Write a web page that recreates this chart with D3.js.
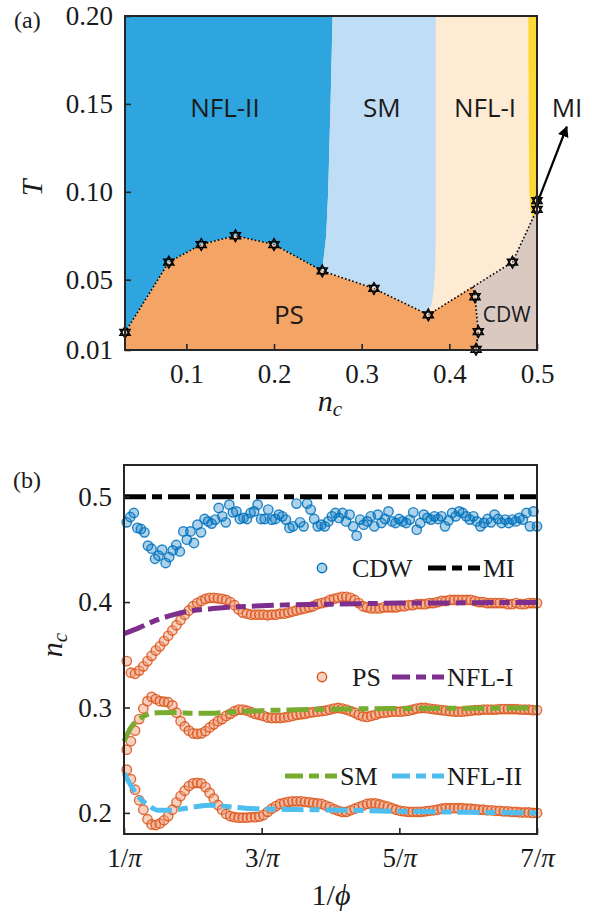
<!DOCTYPE html>
<html>
<head>
<meta charset="utf-8">
<script src="https://cdn.jsdelivr.net/npm/d3@7"></script>
<style>
  body { margin: 0; background: #fff; }
  svg text { fill: #1a1a1a; }
</style>
</head>
<body>
<div id="chart"></div>
<script>
// ---------- panel (a) data : phase diagram ----------
// transition points (stars) along the PS boundary
const starN = [0.03, 0.08, 0.117, 0.156, 0.2, 0.255, 0.314, 0.376, 0.472, 0.5, 0.5];
const starT = [0.020, 0.060, 0.070, 0.075, 0.070, 0.055, 0.045, 0.030, 0.060, 0.090, 0.095];
// PS / CDW boundary (first point lies on the main line, no star)
const psCdwN = [0.4268, 0.4293, 0.433, 0.4305];
const psCdwT = [0.046, 0.0403, 0.0204, 0.0104];
// NFL-II / SM crossover
const smLeftN = [0.2668, 0.2645, 0.2618, 0.2595, 0.255];
const smLeftT = [0.2, 0.15, 0.1, 0.075, 0.055];
// SM / NFL-I crossover
const smRightN = [0.3845, 0.3845, 0.3843, 0.3838, 0.3825, 0.38, 0.376];
const smRightT = [0.2, 0.1, 0.07, 0.055, 0.045, 0.037, 0.03];
// NFL-I / MI strip
const miLeftN = [0.4901, 0.4905, 0.4912, 0.4925, 0.495];
const miLeftT = [0.2, 0.15, 0.1, 0.09, 0.0846];

const phaseLabels = ["NFL-II", "SM", "NFL-I", "PS", "CDW"];
const phaseLabelN = [0.144, 0.323, 0.4407, 0.217, 0.4655];
const phaseLabelT = [0.148, 0.148, 0.148, 0.0305, 0.0305];

const tickA_T = [0.01, 0.05, 0.10, 0.15, 0.20];
const tickA_N = [0.1, 0.2, 0.3, 0.4, 0.5];

// ---------- panel (b) data : n_c vs 1/phi (x in units of 1/pi) ----------
const cdw = [0.4756,0.4807,0.4845,0.4703,0.4693,0.4661,0.4535,0.4506,0.4411,0.444,
  0.4497,0.437,0.4427,0.449,0.4541,0.448,0.467,0.4592,0.467,0.456,
  0.4734,0.4661,0.4788,0.4765,0.4744,0.4782,0.4893,0.4813,0.4756,0.4924,
  0.4851,0.486,0.4788,0.4798,0.4788,0.4845,0.486,0.4924,0.4788,0.4788,
  0.4877,0.4782,0.4788,0.4829,0.4813,0.4782,0.4703,0.4718,0.4934,0.4756,
  0.4718,0.4934,0.4877,0.4788,0.4718,
  0.4734,0.4718,0.4765,0.4813,0.4845,0.4798,0.4845,0.4765,0.4829,0.4718,
  0.463,0.4782,0.4734,0.4765,0.4813,0.4718,0.4829,0.475,0.4788,0.486,
  0.4765,0.475,0.4788,0.4765,0.475,0.4782,0.4851,0.4687,0.475,0.4829,
  0.4798,0.4782,0.4813,0.4788,0.4813,0.4718,0.4775,0.4845,0.4813,0.486,
  0.4845,0.4813,0.4782,0.4813,0.4765,0.4718,0.475,0.4788,0.4756,0.4829,
  0.4788,0.475,0.4782,0.475,0.4782,0.4765,0.4798,0.4782,0.4845,0.4718,
  0.486,0.4718];

const psUpper = [0.344,0.333,0.332,0.335,0.339,0.344,0.349,0.354,0.358,0.363,
  0.368,0.373,0.378,0.383,0.388,0.392,0.396,0.399,0.401,0.403,
  0.404,0.404,0.4035,0.403,0.402,0.400,0.397,0.393,0.390,0.389,
  0.388,0.388,0.388,0.388,0.3875,0.388,0.388,0.389,0.389,0.390,
  0.391,0.392,0.393,0.394,0.395,0.396,0.398,0.399,0.400,0.402,
  0.403,0.404,0.405,0.405,0.404,0.402,0.399,0.396,0.395,0.394,
  0.394,0.394,0.395,0.395,0.395,0.395,0.396,0.396,0.397,0.397,
  0.398,0.398,0.398,0.399,0.399,0.400,0.401,0.401,0.402,0.402,
  0.402,0.402,0.402,0.402,0.401,0.400,0.400,0.399,0.399,0.399,
  0.399,0.399,0.398,0.398,0.399,0.398,0.398,0.399,0.399,0.399];

const psMiddle = [0.260,0.268,0.278,0.289,0.299,0.306,0.310,0.308,0.306,0.3055,
  0.305,0.302,0.295,0.287,0.282,0.278,0.2755,0.275,0.2755,0.2775,
  0.281,0.284,0.287,0.289,0.292,0.294,0.2965,0.298,0.298,0.297,
  0.2955,0.294,0.293,0.292,0.2905,0.290,0.290,0.290,0.2905,0.291,
  0.292,0.293,0.2935,0.294,0.295,0.2955,0.296,0.2965,0.297,0.298,
  0.299,0.2995,0.299,0.298,0.2965,0.295,0.293,0.2915,0.291,0.292,
  0.293,0.2945,0.295,0.2955,0.296,0.296,0.296,0.2965,0.297,0.298,
  0.299,0.2995,0.2995,0.299,0.2985,0.298,0.2975,0.297,0.2965,0.296,
  0.296,0.296,0.2965,0.297,0.2975,0.2975,0.298,0.298,0.298,0.298,
  0.2985,0.2985,0.2985,0.2985,0.2985,0.298,0.298,0.298,0.2975,0.2975];

const psLower = [0.241,0.232,0.222,0.212,0.203,0.194,0.189,0.1885,0.190,0.193,
  0.197,0.203,0.210,0.216,0.221,0.2255,0.228,0.2285,0.228,0.2245,
  0.219,0.2135,0.2075,0.203,0.199,0.197,0.196,0.1955,0.1955,0.1955,
  0.196,0.196,0.1965,0.198,0.201,0.204,0.2065,0.2085,0.2095,0.2105,
  0.211,0.211,0.211,0.2105,0.21,0.2095,0.209,0.2085,0.207,0.2055,
  0.2035,0.202,0.201,0.201,0.2025,0.204,0.2055,0.207,0.2085,0.209,
  0.209,0.208,0.207,0.206,0.2045,0.203,0.202,0.2015,0.201,0.201,
  0.201,0.201,0.2015,0.202,0.2025,0.203,0.204,0.2045,0.2045,0.2045,
  0.2045,0.2045,0.204,0.204,0.2035,0.203,0.203,0.2025,0.2025,0.202,
  0.202,0.2015,0.2015,0.201,0.201,0.2005,0.2005,0.2005,0.2,0.2];

// dash-dot curves, sampled at these x values (units of 1/pi)
const lineK = [1, 1.1, 1.2, 1.35, 1.5, 1.75, 2, 2.25, 2.5, 2.75, 3, 3.5, 4, 4.5, 5, 5.5, 6, 6.5, 7];
const lineMI = [0.5,0.5,0.5,0.5,0.5,0.5,0.5,0.5,0.5,0.5,0.5,0.5,0.5,0.5,0.5,0.5,0.5,0.5,0.5];
const lineNFL1 = [0.370,0.3725,0.375,0.3795,0.3835,0.3885,0.392,0.3935,0.395,0.3958,0.3965,0.3975,0.398,0.3985,0.399,0.399,0.3993,0.3995,0.3995];
const lineSM = [0.268,0.281,0.288,0.2935,0.295,0.2952,0.2945,0.2945,0.2955,0.2963,0.297,0.2978,0.2984,0.2988,0.299,0.2992,0.2993,0.2994,0.2995];
const lineNFL2 = [0.238,0.226,0.216,0.2075,0.2025,0.203,0.2055,0.2072,0.206,0.2045,0.2038,0.2032,0.2028,0.2022,0.2015,0.201,0.2006,0.2003,0.2];

const tickB_K = [1, 3, 5, 7];
const tickB_N = [0.2, 0.3, 0.4, 0.5];

// ---------- drawing ----------
const W = 592, H = 917;
const serif = "'Liberation Serif', 'Times New Roman', serif";
const sans = "'Open Sans', 'DejaVu Sans', sans-serif";
const axisCol = "#262626";

const svg = d3.select("#chart").append("svg").attr("width", W).attr("height", H);

// ===== panel (a) =====
const xA = d3.scaleLinear().domain([0.03, 0.5]).range([125, 537]);
const yA = d3.scaleLinear().domain([0.01, 0.2]).range([350, 16]);
const gA = svg.append("g");

const pt = (n, t) => [xA(n), yA(t)];
const zip = (ns, ts) => ns.map((n, i) => pt(n, ts[i]));
const stars = zip(starN, starT);
const psCdw = zip(psCdwN, psCdwT);
const poly = pts => "M" + pts.map(p => p.join(",")).join("L") + "Z";

// background NFL-I
gA.append("rect")
  .attr("x", xA(0.03)).attr("y", yA(0.2))
  .attr("width", xA(0.5) - xA(0.03)).attr("height", yA(0.01) - yA(0.2))
  .attr("fill", "#fdebd3");

// NFL-II
gA.append("path").attr("fill", "#2ea5df").attr("d", poly(
  [pt(0.03, 0.2)].concat(zip(smLeftN, smLeftT), stars.slice(0, 6).reverse())));
// SM
gA.append("path").attr("fill", "#bfddf4").attr("d", poly(
  zip(smLeftN, smLeftT).concat(stars.slice(5, 8), zip(smRightN, smRightT).reverse())));
// MI strip
gA.append("path").attr("fill", "#fdd835").attr("d", poly(
  zip(miLeftN, miLeftT).concat([stars[9], pt(0.5, 0.2)])));
// PS
gA.append("path").attr("fill", "#f4a464").attr("d", poly(
  stars.slice(0, 8).concat(psCdw, [pt(psCdwN[3], 0.01), pt(0.03, 0.01)])));
// CDW
gA.append("path").attr("fill", "#d9c9c1").attr("d", poly(
  [psCdw[0], stars[8], stars[9], pt(0.5, 0.01), pt(psCdwN[3], 0.01)].concat(psCdw.slice().reverse())));

// dotted boundaries
const lineA = d3.line();
[stars, psCdw].forEach(pts => {
  gA.append("path").attr("d", lineA(pts))
    .attr("fill", "none").attr("stroke", "#000")
    .attr("stroke-width", 1.6).attr("stroke-dasharray", "1.6,2.2");
});

// hexagram markers
const hexagram = r => {
  const tri = a0 => d3.range(3).map(i => {
    const a = a0 + i * 2 * Math.PI / 3;
    return [r * Math.sin(a), -r * Math.cos(a)];
  });
  return poly(tri(0)) + poly(tri(Math.PI));
};
gA.selectAll(".star")
  .data(stars.concat(psCdw.slice(1)))
  .join("path")
  .attr("class", "star")
  .attr("transform", d => `translate(${d[0]},${d[1]})`)
  .attr("d", hexagram(5.8))
  .attr("fill", "rgba(255,255,255,0.35)")
  .attr("stroke", "#000").attr("stroke-width", 1.5);

// phase labels
gA.selectAll(".phase")
  .data(phaseLabels)
  .join("text")
  .attr("class", "phase")
  .attr("x", (d, i) => xA(phaseLabelN[i]))
  .attr("y", (d, i) => yA(phaseLabelT[i]))
  .attr("text-anchor", "middle").attr("dominant-baseline", "central")
  .attr("font-family", sans)
  .attr("font-size", (d) => d === "CDW" ? 21 : 26)
  .text(d => d);

// MI label and arrow
svg.append("defs").append("marker")
  .attr("id", "arrowhead").attr("viewBox", "0 0 10 10")
  .attr("refX", 9).attr("refY", 5)
  .attr("markerWidth", 5).attr("markerHeight", 5)
  .attr("orient", "auto")
  .append("path").attr("d", "M0,0L10,5L0,10Z").attr("fill", "#000");
gA.append("line")
  .attr("x1", xA(0.4995)).attr("y1", yA(0.0925))
  .attr("x2", xA(0.534)).attr("y2", yA(0.137))
  .attr("stroke", "#000").attr("stroke-width", 2.2)
  .attr("marker-end", "url(#arrowhead)");
gA.append("text")
  .attr("x", xA(0.5342)).attr("y", yA(0.1482))
  .attr("text-anchor", "middle").attr("dominant-baseline", "central")
  .attr("font-family", sans).attr("font-size", 26)
  .text("MI");

// axes (a)
const axLeftA = gA.append("g").attr("transform", `translate(${xA(0.03)},0)`)
  .call(d3.axisLeft(yA).tickValues(tickA_T).tickSize(-6).tickPadding(12).tickFormat(d3.format(".2f")));
const axBotA = gA.append("g").attr("transform", `translate(0,${yA(0.01)})`)
  .call(d3.axisBottom(xA).tickValues(tickA_N).tickSize(-6).tickPadding(14).tickFormat(d3.format(".1f")));
[axLeftA, axBotA].forEach(ax => {
  ax.select(".domain").remove();
  ax.selectAll("line").attr("stroke", axisCol).attr("stroke-width", 1.6);
  ax.selectAll("text").attr("font-family", serif).attr("font-size", 27).attr("fill", "#1a1a1a");
});
gA.append("rect")
  .attr("x", xA(0.03)).attr("y", yA(0.2))
  .attr("width", xA(0.5) - xA(0.03)).attr("height", yA(0.01) - yA(0.2))
  .attr("fill", "none").attr("stroke", axisCol).attr("stroke-width", 2);

gA.append("text").attr("x", 14).attr("y", 28)
  .attr("font-family", serif).attr("font-size", 24).text("(a)");
gA.append("text")
  .attr("transform", "translate(42,188) rotate(-90)")
  .attr("text-anchor", "middle")
  .attr("font-family", serif).attr("font-style", "italic").attr("font-size", 30)
  .text("T");
const xlabA = gA.append("text").attr("x", 330).attr("y", 411)
  .attr("text-anchor", "middle")
  .attr("font-family", serif).attr("font-style", "italic").attr("font-size", 30);
xlabA.append("tspan").text("n");
xlabA.append("tspan").attr("font-size", 21).attr("dy", 5).text("c");

// ===== panel (b) =====
const xB = d3.scaleLinear().domain([1, 7]).range([124, 537]);
const yB = d3.scaleLinear().domain([0.18, 0.53]).range([834, 465]);
const gB = svg.append("g");

const cdwIdx = d3.scaleLinear().domain([0, cdw.length - 1]).range([1.04, 7]);
const psIdx = d3.scaleLinear().domain([0, psUpper.length - 1]).range([1.04, 7]);

const cdwStyle = { fill: "rgba(0,114,189,0.32)", stroke: "#0072bd" };
const psStyle = { fill: "rgba(240,150,115,0.45)", stroke: "#d95319" };

const scatter = (vals, idx, st) => {
  gB.append("g").selectAll("circle")
    .data(vals)
    .join("circle")
    .attr("cx", (d, i) => xB(idx(i)))
    .attr("cy", d => yB(d))
    .attr("r", 4.7)
    .attr("fill", st.fill).attr("stroke", st.stroke)
    .attr("stroke-width", 1.4).attr("stroke-opacity", 0.85);
};
scatter(psUpper, psIdx, psStyle);
scatter(psMiddle, psIdx, psStyle);
scatter(psLower, psIdx, psStyle);
scatter(cdw, cdwIdx, cdwStyle);

const dashDot = "22,6,10,6";
const lineB = d3.line().x(d => xB(d[0])).y(d => yB(d[1])).curve(d3.curveMonotoneX);
const series = [
  { vals: lineMI, color: "#000000" },
  { vals: lineNFL1, color: "#7e2f8e" },
  { vals: lineSM, color: "#77ac30" },
  { vals: lineNFL2, color: "#4dbeee" }
];
series.forEach(s => {
  gB.append("path")
    .attr("d", lineB(lineK.map((k, i) => [k, s.vals[i]])))
    .attr("fill", "none").attr("stroke", s.color)
    .attr("stroke-width", 5).attr("stroke-dasharray", dashDot);
});

// axes (b)
const piFmt = function (sel) {
  sel.each(function (d) {
    const t = d3.select(this).text("");
    t.append("tspan").text(d + "/");
    t.append("tspan").attr("font-style", "italic").text("π");
  });
};
const axLeftB = gB.append("g").attr("transform", `translate(${xB(1)},0)`)
  .call(d3.axisLeft(yB).tickValues(tickB_N).tickSize(-6).tickPadding(12).tickFormat(d3.format(".1f")));
const axBotB = gB.append("g").attr("transform", `translate(0,${yB(0.18)})`)
  .call(d3.axisBottom(xB).tickValues(tickB_K).tickSize(-6).tickPadding(14));
[axLeftB, axBotB].forEach(ax => {
  ax.select(".domain").remove();
  ax.selectAll("line").attr("stroke", axisCol).attr("stroke-width", 1.6);
  ax.selectAll("text").attr("font-family", serif).attr("font-size", 27).attr("fill", "#1a1a1a");
});
axBotB.selectAll("text").call(piFmt);
gB.append("rect")
  .attr("x", xB(1)).attr("y", yB(0.53))
  .attr("width", xB(7) - xB(1)).attr("height", yB(0.18) - yB(0.53))
  .attr("fill", "none").attr("stroke", axisCol).attr("stroke-width", 2);

gB.append("text").attr("x", 13).attr("y", 488)
  .attr("font-family", serif).attr("font-size", 24).text("(b)");
const ylabB = gB.append("text")
  .attr("transform", "translate(62,645) rotate(-90)")
  .attr("text-anchor", "middle")
  .attr("font-family", serif).attr("font-style", "italic").attr("font-size", 30);
ylabB.append("tspan").text("n");
ylabB.append("tspan").attr("font-size", 21).attr("dy", 5).text("c");
const xlabB = gB.append("text").attr("x", 331).attr("y", 905)
  .attr("text-anchor", "middle")
  .attr("font-family", serif).attr("font-size", 30);
xlabB.append("tspan").text("1/");
xlabB.append("tspan").attr("font-style", "italic").text("ϕ");

// legend (b)
const legItems = [
  { kind: "circle", st: cdwStyle, label: "CDW", x: 322, y: 568 },
  { kind: "line", color: "#000000", label: "MI", x: 428, y: 568 },
  { kind: "circle", st: psStyle, label: "PS", x: 322, y: 677 },
  { kind: "line", color: "#7e2f8e", label: "NFL-I", x: 392, y: 677 },
  { kind: "line", color: "#77ac30", label: "SM", x: 285, y: 776 },
  { kind: "line", color: "#4dbeee", label: "NFL-II", x: 392, y: 776 }
];
legItems.forEach(it => {
  const g = gB.append("g").attr("transform", `translate(${it.x},${it.y})`);
  let tx;
  if (it.kind === "circle") {
    g.append("circle").attr("r", 4.7)
      .attr("fill", it.st.fill).attr("stroke", it.st.stroke).attr("stroke-width", 1.4);
    tx = 30;
  } else {
    g.append("line").attr("x1", 0).attr("x2", 52)
      .attr("stroke", it.color).attr("stroke-width", 5).attr("stroke-dasharray", "18,6,10,6");
    tx = 55;
  }
  g.append("text").attr("x", tx).attr("y", 9)
    .attr("font-family", serif).attr("font-size", 26).text(it.label);
});
</script>
</body>
</html>
